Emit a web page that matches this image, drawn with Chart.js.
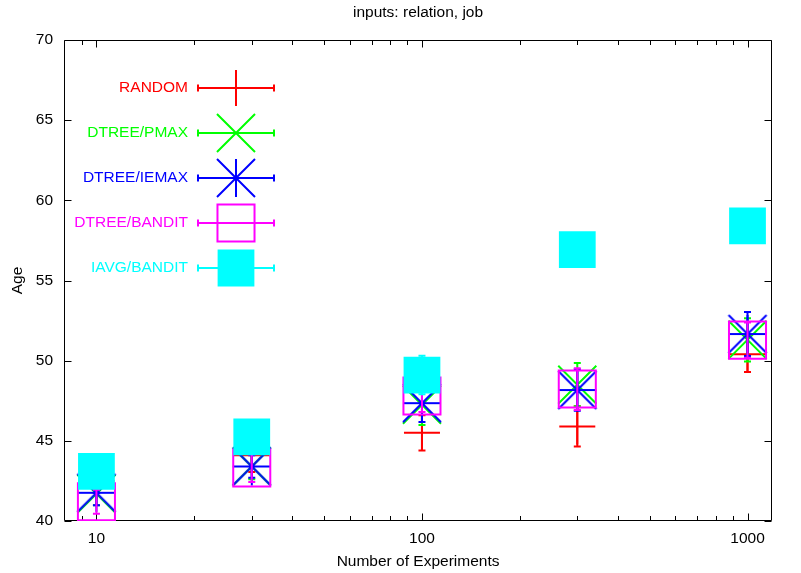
<!DOCTYPE html>
<html>
<head>
<meta charset="utf-8">
<script src="https://cdn.jsdelivr.net/npm/chart.js@4/dist/chart.umd.min.js"></script>
<style>
  html, body { margin: 0; padding: 0; background: #fff; }
  canvas { display: block; }
</style>
</head>
<body>
<canvas id="chart" width="801" height="573"></canvas>
<script>
// Number of experiments (log x axis)
const experiments = [10, 30, 100, 300, 1000];

// Mean age and error half-width per method
const randomMean   = [42.5, 44.1, 45.5, 45.9, 50.4];
const randomErr    = [0.75, 1.05, 1.1, 1.25, 1.1];
const pmaxMean     = [41.7, 43.4, 47.25, 48.5, 51.3];
const pmaxErr      = [0.72, 0.8, 1.27, 1.35, 1.35];
const iemaxMean    = [41.76, 43.4, 47.35, 48.17, 51.66];
const iemaxErr     = [0.77, 0.7, 1.18, 1.3, 1.37];
const banditMean   = [41.2, 43.3, 47.8, 48.23, 51.28];
const banditErr    = [0.75, 0.87, 1.0, 1.3, 1.1];
const iavgMean     = [43.1, 45.25, 49.1, 56.93, 58.4];
const iavgErr      = [0.8, 0.9, 1.2, 1.0, 1.0];

const seriesNames  = ['RANDOM', 'DTREE/PMAX', 'DTREE/IEMAX', 'DTREE/BANDIT', 'IAVG/BANDIT'];
const xTickLabels  = [10, 100, 1000];
const yTickValues  = [40, 45, 50, 55, 60, 65, 70];

const FONT = '"Liberation Sans", Arial, Helvetica, sans-serif';
const FONT_SIZE = 15.5;

// gnuplot-style "*" glyph: a plus and a cross of equal reach
function makeStar(color, half, lw) {
  const c = document.createElement('canvas');
  const s = Math.ceil(half * 2 + lw * 2);
  c.width = s; c.height = s;
  const g = c.getContext('2d');
  const m = s / 2;
  g.strokeStyle = color; g.lineWidth = lw; g.lineCap = 'butt';
  g.beginPath();
  g.moveTo(m, m - half); g.lineTo(m, m + half);
  g.moveTo(m - half, m); g.lineTo(m + half, m);
  g.moveTo(m - half, m - half); g.lineTo(m + half, m + half);
  g.moveTo(m - half, m + half); g.lineTo(m + half, m - half);
  g.stroke();
  return c;
}
const blueStar = makeStar('#0000ff', 19, 2);

function pts(means, errs) {
  return experiments.map((x, i) => ({ x: x, y: means[i], err: errs[i] }));
}

const datasets = [
  { label: seriesNames[0], data: pts(randomMean, randomErr), color: '#ff0000',
    pointStyle: 'cross', pointRadius: 18, borderColor: '#ff0000', backgroundColor: '#ff0000', pointBorderWidth: 2, order: 5 },
  { label: seriesNames[1], data: pts(pmaxMean, pmaxErr), color: '#00ff00',
    pointStyle: 'crossRot', pointRadius: 26.9, borderColor: '#00ff00', backgroundColor: '#00ff00', pointBorderWidth: 2, order: 4 },
  { label: seriesNames[2], data: pts(iemaxMean, iemaxErr), color: '#0000ff',
    pointStyle: blueStar, pointRadius: 19, borderColor: '#0000ff', backgroundColor: '#0000ff', pointBorderWidth: 2, order: 3 },
  { label: seriesNames[3], data: pts(banditMean, banditErr), color: '#ff00ff',
    pointStyle: 'rect', pointRadius: 26.2, borderColor: '#ff00ff', backgroundColor: 'rgba(0,0,0,0)', pointBorderWidth: 2, order: 2 },
  { label: seriesNames[4], data: pts(iavgMean, iavgErr), color: '#00ffff',
    pointStyle: 'rect', pointRadius: 26, borderColor: '#00ffff', backgroundColor: '#00ffff', pointBorderWidth: 0, order: 1 }
].map(d => Object.assign({ showLine: false, pointHoverRadius: d.pointRadius }, d));

// Vertical error bars with small caps, drawn just before each series' points
const errorBars = {
  id: 'errorBars',
  beforeDatasetDraw(chart, args) {
    const ds = chart.data.datasets[args.index];
    const ctx = chart.ctx, xs = chart.scales.x, ys = chart.scales.y;
    ctx.save();
    ctx.strokeStyle = ds.color;
    ctx.lineWidth = 2;
    ctx.beginPath();
    ds.data.forEach(p => {
      const px = xs.getPixelForValue(p.x);
      const top = ys.getPixelForValue(p.y + p.err);
      const bot = ys.getPixelForValue(p.y - p.err);
      ctx.moveTo(px, top); ctx.lineTo(px, bot);
      ctx.moveTo(px - 3.5, top); ctx.lineTo(px + 3.5, top);
      ctx.moveTo(px - 3.5, bot); ctx.lineTo(px + 3.5, bot);
    });
    ctx.stroke();
    ctx.restore();
  }
};

// Frame with inward, mirrored tick marks and the tick labels
const frame = {
  id: 'frame',
  beforeDatasetsDraw(chart) {
    const ctx = chart.ctx, a = chart.chartArea, xs = chart.scales.x, ys = chart.scales.y;
    ctx.save();
    ctx.strokeStyle = '#000';
    ctx.lineWidth = 1;
    ctx.beginPath();
    const L = Math.round(a.left) + 0.5, R = Math.round(a.right) - 0.5;
    const T = Math.round(a.top) + 0.5, B = Math.round(a.bottom) - 0.5;
    ctx.rect(L, T, R - L, B - T);
    // x ticks: majors at decades, minors at 2..9 multiples
    const minors = [];
    [1, 10, 100, 1000].forEach(d => { for (let k = 2; k <= 9; k++) minors.push(k * d); });
    minors.forEach(v => {
      if (xTickLabels.includes(v)) return;
      const px = Math.round(xs.getPixelForValue(v)) + 0.5;
      if (px < L + 3 || px > R - 3) return;
      ctx.moveTo(px, B); ctx.lineTo(px, B - 4.5);
      ctx.moveTo(px, T); ctx.lineTo(px, T + 4.5);
    });
    xTickLabels.forEach(v => {
      const px = Math.round(xs.getPixelForValue(v)) + 0.5;
      ctx.moveTo(px, B); ctx.lineTo(px, B - 7);
      ctx.moveTo(px, T); ctx.lineTo(px, T + 7);
    });
    yTickValues.forEach(v => {
      const py = Math.round(ys.getPixelForValue(v)) + 0.5;
      ctx.moveTo(L, py); ctx.lineTo(L + 7, py);
      ctx.moveTo(R, py); ctx.lineTo(R - 7, py);
    });
    ctx.stroke();

    ctx.font = FONT_SIZE + 'px ' + FONT;
    ctx.fillStyle = '#000';
    ctx.textBaseline = 'middle';
    ctx.textAlign = 'center';
    xTickLabels.forEach(v => ctx.fillText(String(v), xs.getPixelForValue(v), a.bottom + 17.5));
    ctx.textAlign = 'right';
    yTickValues.forEach(v => ctx.fillText(String(v), a.left - 11, ys.getPixelForValue(v)));
    ctx.restore();
  }
};

// Title, axis titles and the key
const annotations = {
  id: 'annotations',
  afterDraw(chart) {
    const ctx = chart.ctx, a = chart.chartArea;
    const cx = (a.left + a.right) / 2;
    ctx.save();
    ctx.font = FONT_SIZE + 'px ' + FONT;
    ctx.fillStyle = '#000';
    ctx.textAlign = 'center';
    ctx.textBaseline = 'middle';
    ctx.fillText('inputs: relation, job', cx, 13);
    ctx.fillText('Number of Experiments', cx, 562);
    ctx.save();
    ctx.translate(18, (a.top + a.bottom) / 2);
    ctx.rotate(-Math.PI / 2);
    ctx.fillText('Age', 0, 0);
    ctx.restore();

    // key
    chart.data.datasets.forEach((ds, i) => {
      const y = 88 + i * 45;
      ctx.textAlign = 'right';
      ctx.fillStyle = ds.color;
      ctx.fillText(ds.label, 188, y);
      ctx.strokeStyle = ds.color;
      ctx.lineWidth = 2;
      ctx.beginPath();
      ctx.moveTo(198, y); ctx.lineTo(274, y);
      ctx.moveTo(198, y - 3.5); ctx.lineTo(198, y + 3.5);
      ctx.moveTo(274, y - 3.5); ctx.lineTo(274, y + 3.5);
      ctx.stroke();
      ctx.fillStyle = ds.backgroundColor;
      ctx.strokeStyle = ds.borderColor;
      ctx.lineWidth = ds.pointBorderWidth;
      Chart.helpers.drawPoint(ctx, {
        pointStyle: ds.pointStyle, radius: ds.pointRadius,
        borderWidth: ds.pointBorderWidth, rotation: 0
      }, 236, y);
    });
    ctx.restore();
  }
};

new Chart(document.getElementById('chart'), {
  type: 'scatter',
  data: { datasets: datasets },
  options: {
    responsive: false,
    devicePixelRatio: 1,
    animation: false,
    layout: { padding: { left: 0, top: 40, right: 3, bottom: 0 } },
    plugins: { legend: { display: false }, title: { display: false }, tooltip: { enabled: false } },
    scales: {
      x: {
        type: 'logarithmic',
        position: 'bottom',
        min: 7.95, max: 1190,
        grid: { display: false, drawTicks: false },
        border: { display: false },
        ticks: { display: false },
        afterFit: s => { s.height = 52; s.paddingLeft = 0; s.paddingRight = 0; }
      },
      y: {
        min: 40, max: 70,
        grid: { display: false, drawTicks: false },
        border: { display: false },
        ticks: { display: false },
        afterFit: s => { s.width = 64; s.paddingTop = 0; s.paddingBottom = 0; }
      }
    }
  },
  plugins: [frame, errorBars, annotations]
});
</script>
</body>
</html>
